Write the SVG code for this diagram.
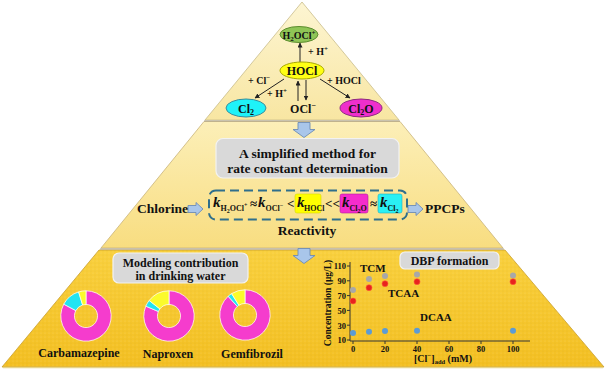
<svg xmlns="http://www.w3.org/2000/svg" width="608" height="369" viewBox="0 0 608 369">
<defs>
<linearGradient id="gTop" x1="0" y1="0" x2="0" y2="1">
<stop offset="0" stop-color="#fdf5d2"/><stop offset="1" stop-color="#f8e6a2"/>
</linearGradient>
<linearGradient id="gMid" x1="0" y1="0" x2="0" y2="1">
<stop offset="0" stop-color="#fcefb8"/><stop offset="1" stop-color="#f8dd80"/>
</linearGradient>
<linearGradient id="gBot" x1="0" y1="0" x2="0" y2="1">
<stop offset="0" stop-color="#f9d03e"/><stop offset="1" stop-color="#f3bf22"/>
</linearGradient>
<pattern id="dots" width="4" height="4" patternUnits="userSpaceOnUse">
<circle cx="1" cy="1" r="0.6" fill="#ffffff" fill-opacity="0.18"/>
<circle cx="3" cy="3" r="0.6" fill="#000000" fill-opacity="0.05"/>
</pattern>
<marker id="ah" viewBox="0 0 10 10" refX="9" refY="5" markerWidth="5" markerHeight="5" orient="auto-start-reverse">
<path d="M0,0 L10,5 L0,10 Z" fill="#222"/>
</marker>
<path id="darrow" d="M-6,0 H6 V7 H11 L0,15 L-11,7 H-6 Z"/>
<path id="rarrow" d="M0,-3.5 H8 V-6.5 L15,0 L8,6.5 V3.5 H0 Z"/>
</defs>
<style>
text{font-family:"Liberation Serif","Times New Roman",serif;font-weight:bold;fill:#111}
.t13{font-size:13.5px}
.t12{font-size:12px}
.t10{font-size:10px}
.tk{font-size:8.5px}
.k{font-size:15px;font-style:italic}
.sub{font-size:8px}
.op{font-size:13px}
.blk{fill:#a9c6ea;stroke:#6d8cb5;stroke-width:0.9}
.conn{stroke:#222;stroke-width:1;fill:none;marker-end:url(#ah)}
.gbox{fill:#d9d9d9;stroke:#f2f2f2;stroke-width:1.2}
.ax{stroke:#333;stroke-width:1;fill:none}
.seg{stroke:#fff;stroke-width:0.7}
.mg{fill:#f53ccd}.cy{fill:#22e4f2}.ye{fill:#fbfb2c}
</style>
<rect width="608" height="369" fill="#ffffff"/>
<g id="pyramid">
<polygon points="302,2 399,120 205,120" fill="url(#gTop)" stroke="#c9bc8a" stroke-width="0.8"/>
<polygon points="204,121.5 400,121.5 503,248 101,248" fill="url(#gMid)" stroke="#c9b47a" stroke-width="0.8"/>
<polygon points="204,121.5 400,121.5 400,121.5" fill="none"/>
<line x1="204" y1="121" x2="400" y2="121" stroke="#a9a28e" stroke-width="1.2"/>
<polygon points="99,250 505,250 604,367 2,367" fill="url(#gBot)" stroke="#c9a030" stroke-width="0.8"/>
<polygon points="99,250 505,250 604,367 2,367" fill="url(#dots)"/>
<line x1="100" y1="249" x2="504" y2="249" stroke="#a9a28e" stroke-width="1.2"/>
<line x1="3" y1="367.5" x2="603" y2="367.5" stroke="#e6d48a" stroke-width="1.5"/>
</g>
<g id="connectors">
<line class="conn" x1="300" y1="62" x2="300" y2="43"/>
<line class="conn" x1="284" y1="79" x2="255" y2="98"/>
<line class="conn" x1="320" y1="79" x2="350" y2="98"/>
<line class="conn" x1="298" y1="101" x2="298" y2="81"/>
<line class="conn" x1="306" y1="80" x2="306" y2="100"/>
<use href="#darrow" class="blk" transform="translate(304,122.5)"/>
<use href="#darrow" class="blk" transform="translate(304,248.5)"/>
<use href="#rarrow" class="blk" transform="translate(188,209)"/>
<use href="#rarrow" class="blk" transform="translate(408,209)"/>
</g>
<g id="n-h2ocl">
<ellipse cx="299" cy="34.5" rx="19" ry="8" fill="#8fc556" stroke="#5c8c2e" stroke-width="1"/>
<text x="299" y="38.5" class="t10" text-anchor="middle" font-size="10.5">H<tspan font-size="7" dy="2">2</tspan><tspan dy="-2">OCl</tspan><tspan font-size="7" dy="-4">+</tspan></text>
</g>
<g id="n-hocl">
<ellipse cx="302" cy="70.5" rx="22" ry="8.5" fill="#ffff14" stroke="#a8a800" stroke-width="1"/>
<text x="302" y="75" class="t12" text-anchor="middle">HOCl</text>
</g>
<g id="n-cl2">
<ellipse cx="246" cy="108" rx="20" ry="9" fill="#1ff2f8" stroke="#3a8c9c" stroke-width="1"/>
<text x="246" y="112.5" class="t12" text-anchor="middle">Cl<tspan font-size="8" dy="2">2</tspan></text>
</g>
<g id="n-ocl">
<text x="303" y="113" class="t12" text-anchor="middle">OCl<tspan font-size="8" dy="-5">−</tspan></text>
</g>
<g id="n-cl2o">
<ellipse cx="361" cy="108" rx="21" ry="9" fill="#ef2fcc" stroke="#8c2a80" stroke-width="1"/>
<text x="361" y="112.5" class="t12" text-anchor="middle">Cl<tspan font-size="8" dy="2">2</tspan><tspan dy="-2">O</tspan></text>
</g>
<g id="labels-top">
<text x="308" y="55" class="t10">+ H<tspan font-size="7" dy="-4">+</tspan></text>
<text x="248" y="84" class="t10">+ Cl<tspan font-size="7" dy="-4">−</tspan></text>
<text x="267" y="97" class="t10">+ H<tspan font-size="7" dy="-4">+</tspan></text>
<text x="327" y="84" class="t10">+ HOCl</text>
</g>
<g id="n-method">
<rect class="gbox" x="216" y="138.5" width="183" height="39.5" rx="7"/>
<text x="307.5" y="158" class="t13" text-anchor="middle">A simplified method for</text>
<text x="307.5" y="173" class="t13" text-anchor="middle">rate constant determination</text>
</g>
<g id="n-chlorine">
<text x="137" y="213" class="t13">Chlorine</text>
</g>
<g id="n-ppcps">
<text x="425" y="213" class="t13">PPCPs</text>
</g>
<g id="n-reactivity">
<rect x="209" y="190.5" width="198" height="29" rx="7" fill="none" stroke="#2f6f8c" stroke-width="2" stroke-dasharray="9 5"/>
<rect x="295" y="194" width="26" height="19" rx="2" fill="#ffff00" stroke="#d8d800" stroke-width="0.6"/>
<rect x="340" y="194" width="28" height="19" rx="2" fill="#f52ccc" stroke="#b0209a" stroke-width="0.6"/>
<rect x="378" y="194" width="24" height="19" rx="2" fill="#2af0f4" stroke="#20b0c0" stroke-width="0.6"/>
<text x="213" y="207" class="k">k</text>
<text x="220.5" y="211" class="sub">H<tspan font-size="6" dy="2">2</tspan><tspan dy="-2">OCl</tspan><tspan font-size="6" dy="-4">+</tspan></text>
<text x="250" y="208" class="op">≈</text>
<text x="258" y="207" class="k">k</text>
<text x="265.5" y="211" class="sub">OCl<tspan font-size="6" dy="-4">−</tspan></text>
<text x="287" y="208" class="op">&lt;</text>
<text x="297" y="207" class="k">k</text>
<text x="304" y="211" class="sub" font-size="7">HOCl</text>
<text x="325" y="208" class="op" font-size="12">&lt;&lt;</text>
<text x="342" y="207" class="k">k</text>
<text x="349.5" y="211" class="sub">Cl<tspan font-size="6" dy="2">2</tspan><tspan dy="-2">O</tspan></text>
<text x="370" y="208" class="op">≈</text>
<text x="380" y="207" class="k">k</text>
<text x="387.5" y="211" class="sub">Cl<tspan font-size="6" dy="2">2</tspan></text>
<text x="307" y="235" class="t13" text-anchor="middle">Reactivity</text>
</g>
<g id="n-modeling">
<rect class="gbox" x="113" y="253" width="135" height="30" rx="6"/>
<text x="180.5" y="266.5" class="t12" text-anchor="middle">Modeling contribution</text>
<text x="180.5" y="279.5" class="t12" text-anchor="middle">in drinking water</text>
</g>
<g id="n-carbamazepine">
<g transform="translate(86,316) scale(1.05)">
<path class="seg mg" d="M0,-24 A24,24 0 1,1 -21.19,-11.27 L-9.71,-5.16 A11,11 0 1,0 0,-11 Z"/>
<path class="seg cy" d="M-21.19,-11.27 A24,24 0 0,1 -7.02,-22.95 L-3.22,-10.52 A11,11 0 0,0 -9.71,-5.16 Z"/>
<path class="seg ye" d="M-7.02,-22.95 A24,24 0 0,1 0,-24 L0,-11 A11,11 0 0,0 -3.22,-10.52 Z"/>
</g>
<text x="79" y="357" class="t12" text-anchor="middle">Carbamazepine</text>
</g>
<g id="n-naproxen">
<g transform="translate(169,316) scale(1.05)">
<path class="seg mg" d="M0,-24 A24,24 0 1,1 -22.09,-9.38 L-10.13,-4.30 A11,11 0 1,0 0,-11 Z"/>
<path class="seg cy" d="M-22.09,-9.38 A24,24 0 0,1 -18.91,-14.78 L-8.67,-6.77 A11,11 0 0,0 -10.13,-4.30 Z"/>
<path class="seg ye" d="M-18.91,-14.78 A24,24 0 0,1 0,-24 L0,-11 A11,11 0 0,0 -8.67,-6.77 Z"/>
</g>
<text x="168" y="358" class="t12" text-anchor="middle">Naproxen</text>
</g>
<g id="n-gemfibrozil">
<g transform="translate(245,315) scale(1.05)">
<path class="seg mg" d="M0,-24 A24,24 0 1,1 -16.06,-17.84 L-7.36,-8.17 A11,11 0 1,0 0,-11 Z"/>
<path class="seg cy" d="M-16.06,-17.84 A24,24 0 0,1 -12.72,-20.35 L-5.83,-9.33 A11,11 0 0,0 -7.36,-8.17 Z"/>
<path class="seg ye" d="M-12.72,-20.35 A24,24 0 0,1 0,-24 L0,-11 A11,11 0 0,0 -5.83,-9.33 Z"/>
</g>
<text x="252" y="358" class="t12" text-anchor="middle">Gemfibrozil</text>
</g>
<g id="n-dbp">
<rect class="gbox" x="400" y="252" width="99" height="17" rx="5"/>
<text x="449.5" y="264.5" class="t12" text-anchor="middle" font-size="11.5">DBP formation</text>
</g>
<g id="chart">
<path class="ax" d="M350,262 V341 H530"/>
<path class="ax" d="M347,266 H350 M347,280.8 H350 M347,295.6 H350 M347,310.4 H350 M347,325.2 H350 M347,340 H350"/>
<path class="ax" d="M353,341 V344 M385,341 V344 M417,341 V344 M449,341 V344 M481,341 V344 M513,341 V344"/>
<g class="tk" text-anchor="end">
<text x="346" y="269" class="tk">110</text>
<text x="346" y="284" class="tk">90</text>
<text x="346" y="299" class="tk">70</text>
<text x="346" y="313.5" class="tk">50</text>
<text x="346" y="328.5" class="tk">30</text>
<text x="346" y="343" class="tk">10</text>
</g>
<g text-anchor="middle">
<text x="353" y="352" class="tk">0</text>
<text x="385" y="352" class="tk">20</text>
<text x="417" y="352" class="tk">40</text>
<text x="449" y="352" class="tk">60</text>
<text x="481" y="352" class="tk">80</text>
<text x="513" y="352" class="tk">100</text>
</g>
<text transform="translate(331,303) rotate(-90)" text-anchor="middle" font-size="9.5">Concentration (µg/L)</text>
<text x="443" y="362" text-anchor="middle" font-size="10">[Cl<tspan font-size="7" dy="-4">−</tspan><tspan dy="4">]</tspan><tspan font-size="6.5" dy="2">add</tspan><tspan dy="-2"> (mM)</tspan></text>
<g fill="#a8a8a8">
<circle cx="353" cy="290" r="3"/><circle cx="369" cy="279" r="3"/><circle cx="385" cy="276" r="3"/><circle cx="417" cy="274.5" r="3"/><circle cx="513" cy="275.5" r="3"/>
</g>
<g fill="#e8231e" stroke="#ff5a3a" stroke-width="0.6">
<circle cx="353" cy="301" r="3"/><circle cx="369" cy="287.7" r="3"/><circle cx="385" cy="283.7" r="3"/><circle cx="417" cy="281.7" r="3"/><circle cx="513" cy="281.7" r="3"/>
</g>
<g fill="#5b9bd5">
<circle cx="353" cy="333" r="3"/><circle cx="369" cy="331.7" r="3"/><circle cx="385" cy="331" r="3"/><circle cx="417" cy="330.7" r="3"/><circle cx="513" cy="330.7" r="3"/>
</g>
<text x="360" y="272" font-size="11">TCM</text>
<text x="388" y="297" font-size="11">TCAA</text>
<text x="420" y="321" font-size="11">DCAA</text>
</g>
</svg>
